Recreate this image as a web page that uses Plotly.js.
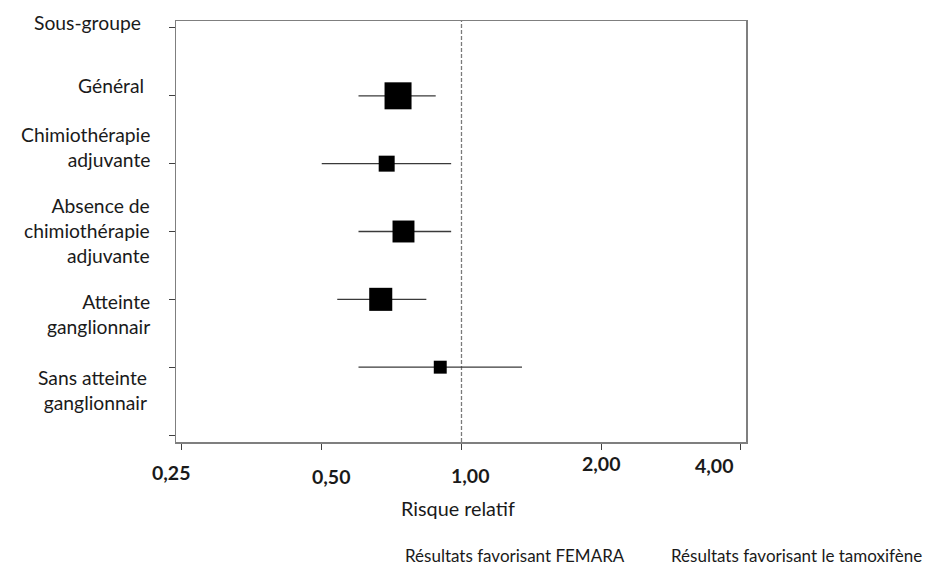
<!DOCTYPE html>
<html>
<head>
<meta charset="utf-8">
<script src="https://cdn.plot.ly/plotly-3.0.1.min.js"></script>
<style>html,body{margin:0;padding:0;background:#fff;}#chart{width:946px;height:569px;}</style>
</head>
<body>
<div id="chart"></div>
<script>
// ---- Data ----
const subgroups = ["Sous-groupe", "Général", "Chimiothérapie<br>adjuvante", "Absence de<br>chimiothérapie<br>adjuvante", "Atteinte<br>ganglionnair", "Sans atteinte<br>ganglionnair"];
const rowIndex = [1, 2, 3, 4, 5];          // rows that carry an estimate
const hazardRatio = [0.73, 0.69, 0.75, 0.67, 0.90];
const ciLower = [0.60, 0.50, 0.60, 0.54, 0.60];
const ciUpper = [0.88, 0.95, 0.95, 0.84, 1.35];
const weights = [100, 35, 66, 73, 23];      // relative weight (box area)
const tickValues = [0.25, 0.5, 1, 2, 4];
const tickLabels = ["0,25", "0,50", "1,00", "2,00", "4,00"];
const xTitle = "Risque relatif";
const favourLeft = "Résultats favorisant FEMARA";
const favourRight = "Résultats favorisant le tamoxifène";

// ---- Layout helpers ----
const FONT = "Lato, 'Open Sans', sans-serif";
const TXT = "#1a1a1a";
const yRange = [6.103, -0.103];
const xRange = [Math.log10(0.25) - 0.0129, Math.log10(4) + 0.0108];
const maxBox = 27;
const boxSizes = weights.map(w => maxBox * Math.sqrt(w / 100));

// label placement (row units / pixel nudges) and tick label pixel nudges
const labelRowPos = [-0.074, 0.855, 1.747, 2.978, 4.209, 5.337];
const labelXShift = [-33, -30, -24, -24, -24, -27];
const tickNudges = [[-10, -30], [10, -34], [9, -33], [0, -21], [-26, -23]];

const traces = [
  {
    type: "scatter", mode: "lines",
    x: [1, 1], y: yRange,
    line: {color: "#7a7a7a", width: 1.3, dash: "4px,2px"},
    hoverinfo: "skip", showlegend: false
  },
  {
    type: "scatter", mode: "markers",
    x: hazardRatio, y: rowIndex,
    marker: {symbol: "square", size: boxSizes, color: "#000000", opacity: 1, line: {width: 0}},
    error_x: {
      type: "data", symmetric: false,
      array: ciUpper.map((u, i) => u - hazardRatio[i]),
      arrayminus: ciLower.map((l, i) => hazardRatio[i] - l),
      width: 0, thickness: 1.3, color: "#3a3a3a"
    },
    showlegend: false
  }
];

const annotations = [];
subgroups.forEach((s, i) => {
  annotations.push({
    text: s, xref: "paper", yref: "y", x: 0, y: labelRowPos[i],
    xanchor: "right", yanchor: "middle", align: "right", xshift: labelXShift[i],
    showarrow: false, font: {family: FONT, size: 19.3, color: TXT}
  });
});
tickValues.forEach((v, i) => {
  annotations.push({
    text: "<b>" + tickLabels[i] + "</b>", xref: "x", yref: "paper",
    x: Math.log10(v), y: 0, xanchor: "center", yanchor: "middle",
    xshift: tickNudges[i][0], yshift: tickNudges[i][1],
    showarrow: false, font: {family: FONT, size: 19.5, color: TXT}
  });
});
annotations.push({
  text: xTitle, xref: "paper", yref: "paper", x: (458 - 176) / 570, y: 0, yshift: -66,
  xanchor: "center", yanchor: "middle", showarrow: false,
  font: {family: FONT, size: 19.8, color: TXT}
});
annotations.push({
  text: favourLeft, xref: "paper", yref: "paper", x: (515 - 176) / 570, y: 0, yshift: -113,
  xanchor: "center", yanchor: "middle", showarrow: false,
  font: {family: FONT, size: 17, color: TXT}
});
annotations.push({
  text: favourRight, xref: "paper", yref: "paper", x: (796 - 176) / 570, y: 0, yshift: -113,
  xanchor: "center", yanchor: "middle", showarrow: false,
  font: {family: FONT, size: 17, color: TXT}
});

const layout = {
  width: 946, height: 569,
  margin: {l: 176, r: 200, t: 21, b: 127, pad: 0},
  paper_bgcolor: "#ffffff", plot_bgcolor: "#ffffff",
  showlegend: false,
  xaxis: {
    type: "log", range: xRange, tickvals: tickValues, showticklabels: false,
    ticks: "outside", ticklen: 6, tickwidth: 1, tickcolor: "#404040",
    showgrid: false, zeroline: false,
    showline: true, mirror: true, linecolor: "#7f7f7f", linewidth: 1.5
  },
  yaxis: {
    range: yRange, tickvals: [0, 1, 2, 3, 4, 5, 6], showticklabels: false,
    ticks: "outside", ticklen: 6, tickwidth: 1, tickcolor: "#404040",
    showgrid: false, zeroline: false,
    showline: true, mirror: true, linecolor: "#7f7f7f", linewidth: 1.5
  },
  annotations: annotations
};

Plotly.newPlot("chart", traces, layout, {displayModeBar: false, staticPlot: true});
</script>
</body>
</html>
